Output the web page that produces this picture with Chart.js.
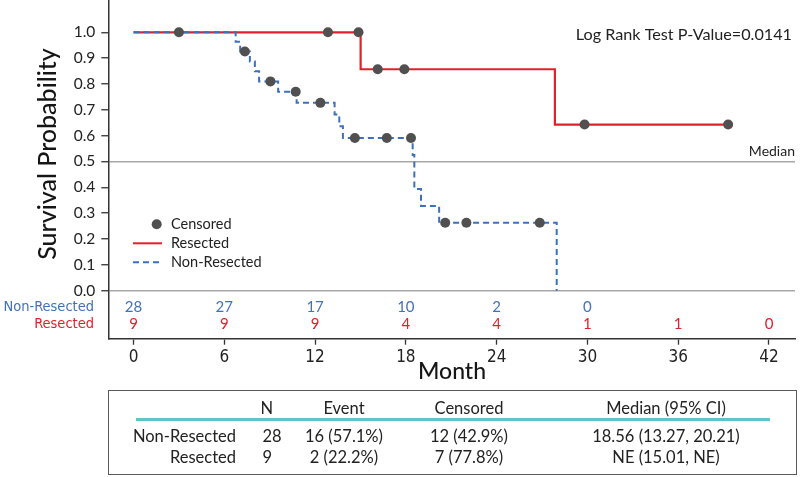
<!DOCTYPE html>
<html>
<head>
<meta charset="utf-8">
<script src="https://cdn.jsdelivr.net/npm/chart.js@4.4.1/dist/chart.umd.min.js"></script>
<style>
html,body{margin:0;padding:0;background:#fff;}
#wrap{position:relative;width:800px;height:477px;overflow:hidden;}
#c{position:absolute;left:0;top:0;}
#tbl{position:absolute;left:108px;top:390px;width:689px;height:85px;border:1.5px solid #5a5a5a;box-sizing:border-box;font-family:Lato,"Liberation Sans",sans-serif;font-size:16.5px;color:#222;}
#tbl div{position:absolute;white-space:nowrap;line-height:1;}
.ctr{transform:translate(-50%,-50%);}
.rgt{transform:translate(-100%,-50%);}
.lft{transform:translate(0,-50%);}
#teal{left:27px;top:27px;width:634px;height:2.5px;background:#5ec6c6;}
</style>
</head>
<body>
<div id="wrap">
<canvas id="c" width="800" height="477"></canvas>
<div id="tbl"></div>
</div>
<script>
// ---- data ----
const nonResTimes = [0, 6.75, 7.05, 7.69, 8.02, 8.3, 9.56, 10.78, 13.29, 13.6, 13.84, 18.45, 18.56, 19.0, 20.2, 27.97];
const nonResSurv  = [1.0, 0.963, 0.926, 0.887, 0.849, 0.810, 0.770, 0.727, 0.682, 0.636, 0.591, 0.525, 0.394, 0.328, 0.263, 0.0];
const nonResCensTimes = [3.0, 7.36, 9.05, 10.72, 12.35, 14.63, 16.74, 18.34, 20.6, 22.0, 26.85];
const nonResCensSurv  = [1.0, 0.926, 0.810, 0.770, 0.727, 0.591, 0.591, 0.591, 0.263, 0.263, 0.263];

const resTimes = [0, 15.01, 27.85, 39.3];
const resSurv  = [1.0, 0.857, 0.643, 0.643];
const resCensTimes = [12.85, 14.87, 16.14, 17.9, 29.81, 39.3];
const resCensSurv  = [1.0, 1.0, 0.857, 0.857, 0.643, 0.643];

const monthTicks = [0, 6, 12, 18, 24, 30, 36, 42];
const survTicks = [0.0, 0.1, 0.2, 0.3, 0.4, 0.5, 0.6, 0.7, 0.8, 0.9, 1.0];
const riskNonRes = [28, 27, 17, 10, 2, 0, null, null];
const riskRes    = [9, 9, 9, 4, 4, 1, 1, 0];

const groupNames = ['Non-Resected', 'Resected'];
const tableHeader = ['N', 'Event', 'Censored', 'Median (95% CI)'];
const tableN = [28, 9];
const tableEvent = ['16 (57.1%)', '2 (22.2%)'];
const tableCensored = ['12 (42.9%)', '7 (77.8%)'];
const tableMedian = ['18.56 (13.27, 20.21)', 'NE (15.01, NE)'];
const pValueText = 'Log Rank Test P-Value=0.0141';

// ---- styling ----
const RED = '#e2202c', BLUE = '#3c6fc0', DOT = '#505050', GRAY = '#a8a8a8', AXIS = '#333333';
const MAIN = 'Lato, "Liberation Sans", sans-serif';
const NARROW = '"Liberation Sans Narrow", "DejaVu Sans Condensed", "Liberation Sans", sans-serif';

const toPts = (xs, ys) => xs.map((t, i) => ({x: t, y: ys[i]}));

const annot = {
  id: 'annot',
  afterLayout(chart) {
    // let the plot area reach the very top of the canvas, as in the reference
    const y = chart.scales.y;
    chart.chartArea.top = 0;
    chart.chartArea.height = chart.chartArea.bottom;
    y.top = 0;
    y.height = y.bottom;
    y.configure();
  },
  afterDraw(chart) {
    const {ctx, scales: {x}} = chart;
    ctx.save();
    ctx.fillStyle = '#151515';
    // y title
    ctx.save();
    ctx.font = '500 25px ' + MAIN;
    ctx.translate(48, 154);
    ctx.rotate(-Math.PI / 2);
    ctx.textAlign = 'center'; ctx.textBaseline = 'middle';
    ctx.fillText('Survival Probability', 0, 0);
    ctx.restore();
    // x title
    ctx.font = '500 23px ' + MAIN;
    ctx.textAlign = 'center'; ctx.textBaseline = 'middle';
    ctx.fillText('Month', 452, 372);
    // p-value
    ctx.font = '16.2px ' + MAIN;
    ctx.textAlign = 'right';
    ctx.fillStyle = '#222';
    ctx.fillText(pValueText, 792, 35);
    ctx.font = '14px ' + MAIN;
    ctx.fillText('Median', 795, 151);
    // at-risk
    ctx.font = '14.5px ' + NARROW;
    ctx.textAlign = 'right';
    ctx.fillStyle = '#4472b8';
    ctx.fillText(groupNames[0], 94, 307.5);
    ctx.fillStyle = RED;
    ctx.fillText(groupNames[1], 94, 324.5);
    ctx.font = '15px ' + MAIN;
    ctx.textAlign = 'center';
    monthTicks.forEach((t, i) => {
      const px = x.getPixelForValue(t);
      if (riskNonRes[i] !== null) { ctx.fillStyle = '#4472b8'; ctx.fillText(String(riskNonRes[i]), px, 307.5); }
      if (riskRes[i] !== null) { ctx.fillStyle = RED; ctx.fillText(String(riskRes[i]), px, 324.5); }
    });
    // legend
    ctx.fillStyle = DOT;
    ctx.beginPath(); ctx.arc(156.7, 224.3, 5, 0, Math.PI * 2); ctx.fill();
    ctx.lineWidth = 2;
    ctx.strokeStyle = RED;
    ctx.beginPath(); ctx.moveTo(133, 243.3); ctx.lineTo(162, 243.3); ctx.stroke();
    ctx.strokeStyle = BLUE; ctx.setLineDash([6, 4]);
    ctx.beginPath(); ctx.moveTo(133, 262.3); ctx.lineTo(162, 262.3); ctx.stroke();
    ctx.setLineDash([]);
    ctx.fillStyle = '#222';
    ctx.font = '14.5px ' + MAIN;
    ctx.textAlign = 'left';
    ctx.fillText('Censored', 171, 224.5);
    ctx.fillText('Resected', 171, 243.5);
    ctx.fillText('Non-Resected', 171, 262.5);
    ctx.restore();
  }
};

new Chart(document.getElementById('c'), {
  type: 'line',
  data: {
    datasets: [
      {
        label: 'Censored',
        data: toPts(nonResCensTimes, nonResCensSurv).concat(toPts(resCensTimes, resCensSurv)),
        showLine: false, pointRadius: 5, pointHoverRadius: 5,
        pointBackgroundColor: DOT, pointBorderWidth: 0, pointBorderColor: DOT
      },
      {
        label: 'Non-Resected',
        data: toPts(nonResTimes, nonResSurv),
        stepped: 'before', borderColor: BLUE, borderWidth: 2, borderDash: [6, 4],
        pointRadius: 0, fill: false
      },
      {
        label: 'Resected',
        data: toPts(resTimes, resSurv),
        stepped: 'before', borderColor: RED, borderWidth: 2.2,
        pointRadius: 0, fill: false
      }
    ]
  },
  options: {
    responsive: false,
    animation: false,
    events: [],
    layout: {padding: {top: 0, left: 0, right: 3.3, bottom: 92}},
    plugins: {legend: {display: false}, tooltip: {enabled: false}},
    scales: {
      x: {
        type: 'linear',
        min: -1.667, max: 43.72,
        afterBuildTicks: s => { s.ticks = monthTicks.map(v => ({value: v})); },
        afterFit: s => { s.height = 46.3; s.paddingLeft = 0; s.paddingRight = 0; },
        grid: {drawOnChartArea: false, drawTicks: true, tickLength: 6, tickColor: AXIS, tickWidth: 1.3},
        border: {display: true, color: AXIS, width: 1.5},
        ticks: {autoSkip: false, maxRotation: 0, padding: 3, color: '#222', font: {family: NARROW, size: 17}}
      },
      y: {
        type: 'linear',
        min: -0.1858, max: 1.125,
        afterBuildTicks: s => { s.ticks = survTicks.map(v => ({value: v})); },
        afterFit: s => { s.width = 108.3; s.paddingTop = 0; s.paddingBottom = 0; },
        grid: {
          drawOnChartArea: true, drawTicks: true, tickLength: 7, tickColor: AXIS, tickWidth: 1.3,
          color: c => (c.tick && (Math.abs(c.tick.value) < 1e-9 || Math.abs(c.tick.value - 0.5) < 1e-9)) ? GRAY : 'rgba(0,0,0,0)',
          lineWidth: 1.5
        },
        border: {display: true, color: AXIS, width: 1.5},
        ticks: {padding: 6, color: '#222', font: {family: MAIN, size: 15.5}, callback: v => Number(v).toFixed(1)}
      }
    }
  },
  plugins: [annot]
});

// ---- summary table (HTML text) ----
const tbl = document.getElementById('tbl');
function cell(txt, x, y, cls) {
  const d = document.createElement('div');
  d.className = cls; d.textContent = txt;
  d.style.left = x + 'px'; d.style.top = y + 'px';
  tbl.appendChild(d);
}
const teal = document.createElement('div'); teal.id = 'teal'; tbl.appendChild(teal);
const colX = [157.7, 235, 360, 557];
const rowY = [16.5, 44.5, 66];
tableHeader.forEach((h, i) => cell(h, colX[i], rowY[0], 'ctr'));
groupNames.forEach((g, r) => {
  cell(g, 127, rowY[r + 1], 'rgt');
  cell(String(tableN[r]), 153.5, rowY[r + 1], 'lft');
  cell(tableEvent[r], colX[1], rowY[r + 1], 'ctr');
  cell(tableCensored[r], colX[2], rowY[r + 1], 'ctr');
  cell(tableMedian[r], colX[3], rowY[r + 1], 'ctr');
});
</script>
</body>
</html>
